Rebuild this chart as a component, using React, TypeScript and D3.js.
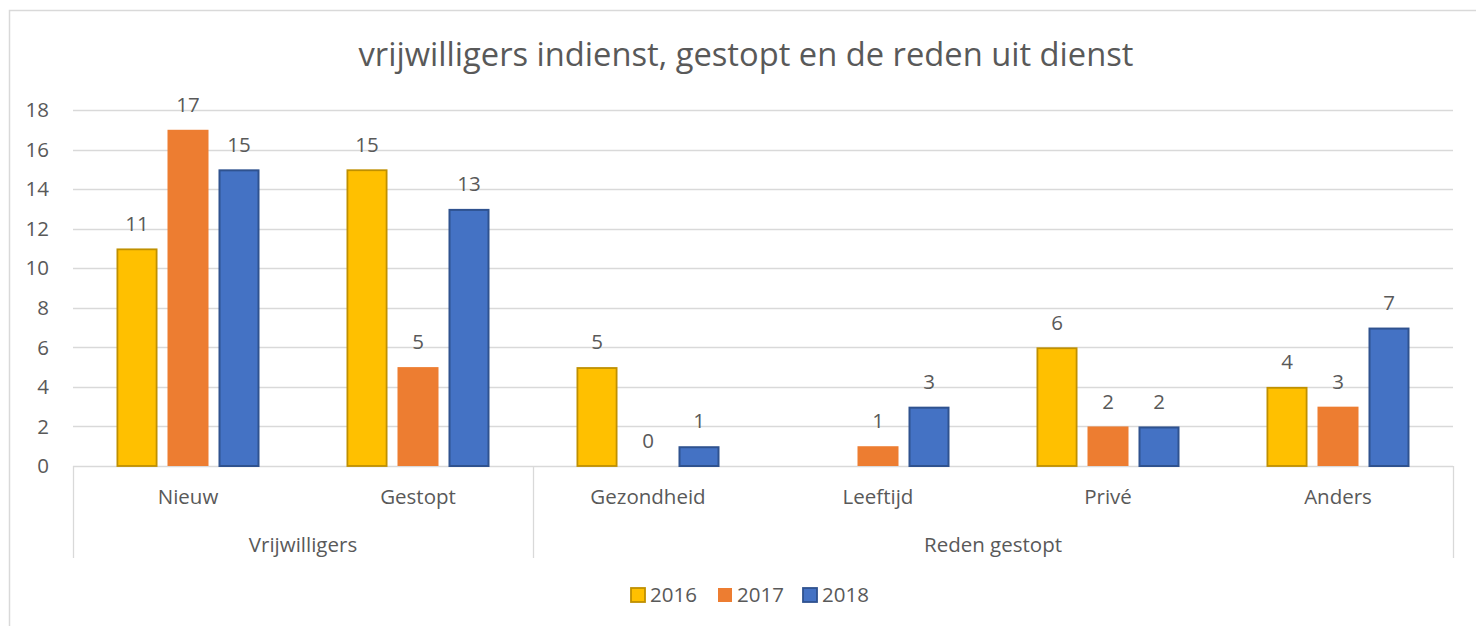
import React from "react";
import * as d3 from "d3";

const categories = ["Nieuw", "Gestopt", "Gezondheid", "Leeftijd", "Privé", "Anders"];
const groups = [
  { name: "Vrijwilligers", from: 0, to: 2 },
  { name: "Reden gestopt", from: 2, to: 6 },
];
const seriesNames = ["2016", "2017", "2018"];
const values2016 = [11, 15, 5, null, 6, 4];
const values2017 = [17, 5, 0, 1, 2, 3];
const values2018 = [15, 13, 1, 3, 2, 7];
const yTicks = [0, 2, 4, 6, 8, 10, 12, 14, 16, 18];
const title = "vrijwilligers indienst, gestopt en de reden uit dienst";

const fills = ["#FFC000", "#ED7D31", "#4472C4"];
const strokes = ["#BF9000", "none", "#2F528F"];

export default function App() {
  const W = 1476, H = 626;
  const left = 73, right = 1453, top = 110, bottom = 466;
  const font = "'Open Sans', sans-serif";
  const textColor = "#595959";
  const grid = "#D9D9D9";
  const seriesValues = [values2016, values2017, values2018];
  const fs = 20.5;

  const x = d3.scaleBand<string>().domain(categories).range([left, right]).paddingInner(0).paddingOuter(0);
  const xi = d3.scaleBand<string>().domain(seriesNames).range([0, x.bandwidth()]).paddingInner(0.196).paddingOuter(0.853);
  const y = d3.scaleLinear().domain([0, 18]).range([bottom, top]);

  const boundaries: number[] = [left];
  groups.forEach((g) => boundaries.push(left + x.step() * g.to));

  const legendItems = [
    { name: seriesNames[0], sx: 630, tx: 650 },
    { name: seriesNames[1], sx: 717, tx: 737 },
    { name: seriesNames[2], sx: 802, tx: 822 },
  ];

  return (
    <svg width={W} height={H} style={{ position: "absolute", left: 0, top: 0, background: "#fff" }} fontFamily={font}>
      <rect x={9.5} y={10.5} width={W + 20} height={H + 20} fill="#fff" stroke={grid} strokeWidth={1.5} />
      <text x={746} y={55} dy="0.35em" textAnchor="middle" fontSize={32.7} fill={textColor}>{title}</text>
      {yTicks.map((t) => (
        <g key={t}>
          <line x1={left} x2={right} y1={Math.round(y(t)) + 0.5} y2={Math.round(y(t)) + 0.5} stroke={grid} strokeWidth={1.3} />
          <text x={49} y={y(t)} dy="0.35em" textAnchor="end" fontSize={fs} fill={textColor}>{t}</text>
        </g>
      ))}
      {boundaries.map((b, i) => (
        <line key={i} x1={b + 0.5} x2={b + 0.5} y1={bottom} y2={558} stroke={grid} strokeWidth={1.3} />
      ))}
      {seriesValues.map((vals, si) =>
        vals.map((v, ci) => {
          if (v === null) return null;
          const bx = (x(categories[ci]) as number) + (xi(seriesNames[si]) as number);
          const bw = xi.bandwidth();
          const yt = y(v);
          const sw = si === 1 ? 0 : si === 0 ? 1.8 : 2;
          return (
            <g key={si + "-" + ci}>
              {v > 0 && (
                <rect x={bx + sw / 2} y={yt + sw / 2} width={bw - sw} height={bottom - yt - sw / 2}
                  fill={fills[si]} stroke={strokes[si]} strokeWidth={sw} />
              )}
              <text x={bx + bw / 2} y={yt - 25} dy="0.35em" textAnchor="middle" fontSize={fs} fill={textColor}>{v}</text>
            </g>
          );
        })
      )}
      {categories.map((c) => (
        <text key={c} x={(x(c) as number) + x.bandwidth() / 2} y={497} dy="0.35em" textAnchor="middle" fontSize={fs} fill={textColor}>{c}</text>
      ))}
      {groups.map((g) => (
        <text key={g.name} x={left + x.step() * (g.from + g.to) / 2} y={545} dy="0.35em" textAnchor="middle" fontSize={fs} fill={textColor}>{g.name}</text>
      ))}
      {legendItems.map((l, i) => (
        <g key={l.name}>
          <rect x={l.sx + 1} y={588} width={14} height={14} fill={fills[i]} stroke={strokes[i]} strokeWidth={i === 1 ? 0 : 1.8} />
          <text x={l.tx} y={595} dy="0.35em" fontSize={fs} fill={textColor}>{l.name}</text>
        </g>
      ))}
    </svg>
  );
}
